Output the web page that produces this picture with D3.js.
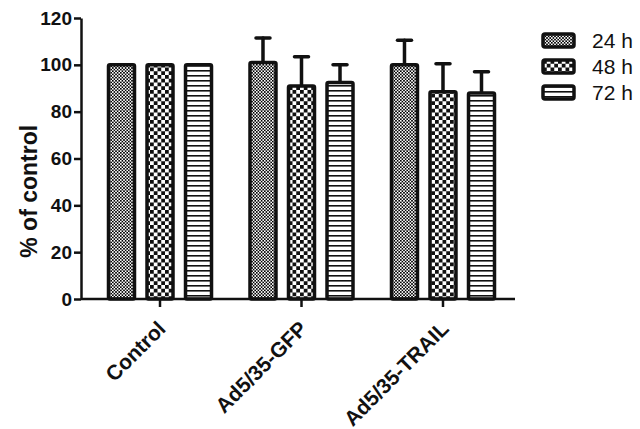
<!DOCTYPE html>
<html>
<head>
<meta charset="utf-8">
<script src="https://cdn.jsdelivr.net/npm/d3@7"></script>
<style>
  body { margin: 0; background: #fff; }
  svg { display: block; font-family: "Liberation Sans", Arial, sans-serif; }
</style>
</head>
<body>
<svg id="chart" width="640" height="429"></svg>
<script>
var groups = ["Control", "Ad5/35-GFP", "Ad5/35-TRAIL"];
var series = ["24 h", "48 h", "72 h"];
var means24 = [100, 101, 100];
var means48 = [100, 91, 88.5];
var means72 = [100, 92.5, 88];
var err24 = [0, 10.5, 10.5];
var err48 = [0, 12.5, 12];
var err72 = [0, 7.5, 9];
var yTicks = [0, 20, 40, 60, 80, 100, 120];

var svg = d3.select("#chart");
var plotBottom = 299, plotTop = 18, plotLeft = 81, plotRight = 515;

var y = d3.scaleLinear().domain([0, 120]).range([plotBottom, plotTop]);
var x0 = d3.scaleBand().domain(groups).range([108.5, 494.5]).paddingInner(0.272).paddingOuter(0);
var x1 = d3.scaleBand().domain(series).range([0, x0.bandwidth()]).paddingInner(0.325).paddingOuter(0);

// fill patterns
var defs = svg.append("defs");
var p1 = defs.append("pattern").attr("id", "pat0").attr("patternUnits", "userSpaceOnUse")
  .attr("width", 3.2).attr("height", 3.2);
p1.append("rect").attr("width", 3.2).attr("height", 3.2).attr("fill", "#fff");
p1.append("rect").attr("width", 1.6).attr("height", 1.6).attr("fill", "#000");
p1.append("rect").attr("x", 1.6).attr("y", 1.6).attr("width", 1.6).attr("height", 1.6).attr("fill", "#000");

var p2 = defs.append("pattern").attr("id", "pat1").attr("patternUnits", "userSpaceOnUse")
  .attr("width", 7.5).attr("height", 7.5);
p2.append("rect").attr("width", 7.5).attr("height", 7.5).attr("fill", "#fff");
p2.append("rect").attr("width", 3.75).attr("height", 3.75).attr("fill", "#111");
p2.append("rect").attr("x", 3.75).attr("y", 3.75).attr("width", 3.75).attr("height", 3.75).attr("fill", "#111");

var p3 = defs.append("pattern").attr("id", "pat2").attr("patternUnits", "userSpaceOnUse")
  .attr("width", 5).attr("height", 5);
p3.append("rect").attr("width", 5).attr("height", 5).attr("fill", "#fff");
p3.append("rect").attr("y", 0).attr("width", 5).attr("height", 1.6).attr("fill", "#111");

var data = [];
groups.forEach(function (g, i) {
  data.push({ g: g, s: series[0], v: means24[i], e: err24[i], k: 0 });
  data.push({ g: g, s: series[1], v: means48[i], e: err48[i], k: 1 });
  data.push({ g: g, s: series[2], v: means72[i], e: err72[i], k: 2 });
});

// error bars
var eb = svg.append("g").selectAll("g").data(data.filter(function (d) { return d.e > 0; }))
  .enter().append("g")
  .attr("stroke", "#111").attr("stroke-linecap", "round");
eb.append("line")
  .attr("x1", function (d) { return x0(d.g) + x1(d.s) + x1.bandwidth() / 2; })
  .attr("x2", function (d) { return x0(d.g) + x1(d.s) + x1.bandwidth() / 2; })
  .attr("y1", function (d) { return y(d.v); })
  .attr("y2", function (d) { return y(d.v + d.e); })
  .attr("stroke-width", 3.5);
eb.append("line")
  .attr("x1", function (d) { return x0(d.g) + x1(d.s) + x1.bandwidth() / 2 - 7; })
  .attr("x2", function (d) { return x0(d.g) + x1(d.s) + x1.bandwidth() / 2 + 7; })
  .attr("y1", function (d) { return y(d.v + d.e); })
  .attr("y2", function (d) { return y(d.v + d.e); })
  .attr("stroke-width", 3.5);

// bars
svg.append("g").selectAll("rect").data(data).enter().append("rect")
  .attr("x", function (d) { return x0(d.g) + x1(d.s); })
  .attr("y", function (d) { return y(d.v); })
  .attr("width", x1.bandwidth())
  .attr("height", function (d) { return plotBottom - y(d.v); })
  .attr("rx", 1.5)
  .attr("fill", function (d) { return "url(#pat" + d.k + ")"; })
  .attr("stroke", "#111")
  .attr("stroke-width", 3.5);

// y axis
var yAxis = svg.append("g").attr("transform", "translate(" + plotLeft + ",0)")
  .call(d3.axisLeft(y).tickValues(yTicks).tickSize(7).tickSizeOuter(0));
yAxis.select(".domain").attr("stroke", "#111").attr("stroke-width", 2.5);
yAxis.selectAll(".tick line").attr("stroke", "#111").attr("stroke-width", 2.5);
yAxis.selectAll(".tick text").attr("x", -9).attr("fill", "#111")
  .style("font-size", "19px").style("font-weight", "bold")
  .style("font-family", "'Liberation Sans', Arial, sans-serif");

// x axis
var xAxis = svg.append("g").attr("transform", "translate(0," + plotBottom + ")")
  .call(d3.axisBottom(x0).tickSize(8).tickSizeOuter(0).tickFormat(""));
xAxis.select(".domain").attr("d", "M" + plotLeft + ",0H" + plotRight).attr("stroke", "#111").attr("stroke-width", 2.5);
xAxis.selectAll(".tick line").attr("stroke", "#111").attr("stroke-width", 2.5);
xAxis.selectAll(".tick").append("text")
  .attr("text-anchor", "end")
  .attr("transform", "translate(7,31) rotate(-45)")
  .attr("fill", "#111")
  .style("font-size", "21px").style("font-weight", "bold")
  .text(function (d) { return d; });

// y label
svg.append("text")
  .attr("transform", "translate(37," + y(46) + ") rotate(-90)")
  .attr("text-anchor", "middle")
  .attr("fill", "#111")
  .style("font-size", "23px").style("font-weight", "bold")
  .text("% of control");

// legend
var lg = svg.append("g").selectAll("g").data(series).enter().append("g")
  .attr("transform", function (d, i) { return "translate(543," + (34 + i * 26) + ")"; });
lg.append("rect").attr("width", 31).attr("height", 13).attr("rx", 2)
  .attr("fill", function (d, i) { return "url(#pat" + i + ")"; })
  .attr("stroke", "#111").attr("stroke-width", 3.5);
lg.append("text").attr("x", 49).attr("y", 14)
  .attr("fill", "#111").style("font-size", "21px")
  .text(function (d) { return d; });
</script>
</body>
</html>
